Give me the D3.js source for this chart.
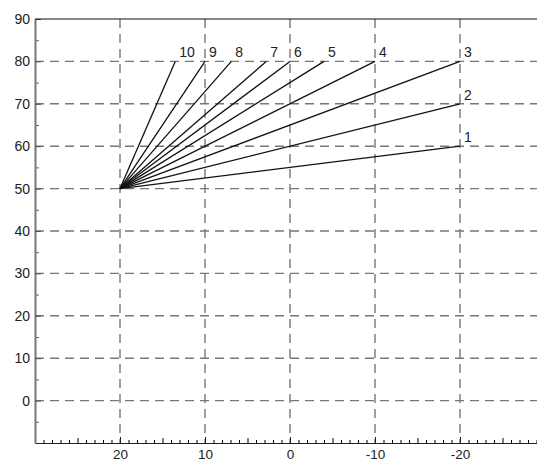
<!DOCTYPE html>
<html>
<head>
<meta charset="utf-8">
<script src="https://cdn.jsdelivr.net/npm/d3@7"></script>
<style>
  body { margin: 0; background: #fff; }
  text { font-family: "Liberation Sans", Arial, sans-serif; fill: #222; }
</style>
</head>
<body>
<div class="chart"></div>
<script>
// Fan of lines, all starting at one point
const originX = 20;
const originY = 50;
const lineLabels = ['1', '2', '3', '4', '5', '6', '7', '8', '9', '10'];
const endX = [-20, -20, -20, -10, -4, 0, 2.8, 6.9, 10, 13.5];
const endY = [60, 70, 80, 80, 80, 80, 80, 80, 80, 80];

// Tick values
const xTicks = [20, 10, 0, -10, -20];
const yTicks = [0, 10, 20, 30, 40, 50, 60, 70, 80, 90];
const yGrid = [0, 10, 20, 30, 40, 50, 60, 70, 80];

document.addEventListener('DOMContentLoaded', function() {
    draw();
});

function draw() {
    const W = 537, H = 462;

    const svg = d3.select('.chart')
        .append('svg')
        .attr('width', W)
        .attr('height', H);

    const x = d3.scaleLinear().domain([30, -30]).range([35, 545]);
    const y = d3.scaleLinear().domain([-10, 90]).range([443, 19]);

    // dashed grid
    const grid = svg.append('g')
        .attr('stroke', '#777')
        .attr('stroke-width', 1.4)
        .attr('stroke-dasharray', '9,6');

    grid.selectAll('.vgrid')
        .data(xTicks)
        .enter()
        .append('line')
        .attr('x1', d => x(d)).attr('x2', d => x(d))
        .attr('y1', y(90)).attr('y2', y(-10));

    grid.selectAll('.hgrid')
        .data(yGrid)
        .enter()
        .append('line')
        .attr('x1', x(30)).attr('x2', W)
        .attr('y1', d => y(d)).attr('y2', d => y(d));

    // minor / medium ticks on x axis
    const minorX = d3.range(30, -30, -1).filter(d => d % 5 !== 0);
    const midX = d3.range(30, -30, -5).filter(d => d % 10 !== 0);

    svg.append('g')
        .attr('transform', `translate(0,${y(-10)})`)
        .call(d3.axisBottom(x).tickValues(minorX).tickSize(-3).tickFormat(''))
        .call(g => g.select('.domain').remove());

    svg.append('g')
        .attr('transform', `translate(0,${y(-10)})`)
        .call(d3.axisBottom(x).tickValues(midX).tickSize(-5).tickFormat(''))
        .call(g => g.select('.domain').remove());

    const xAxis = svg.append('g')
        .attr('class', 'x-axis')
        .attr('transform', `translate(0,${y(-10)})`)
        .call(d3.axisBottom(x).tickValues(xTicks).tickSize(-6).tickSizeOuter(0)
            .tickPadding(6).tickFormat(d => String(d)));
    xAxis.select('.domain').attr('stroke', '#222');
    xAxis.selectAll('.tick line').attr('stroke', '#222');
    xAxis.selectAll('text').style('font-size', '13.5px').attr('fill', '#222');
    xAxis.attr('font-family', null);

    // y axis
    const minorY = d3.range(-5, 90, 10);
    svg.append('g')
        .attr('transform', `translate(${x(30)},0)`)
        .call(d3.axisLeft(y).tickValues(minorY).tickSize(-4).tickFormat(''))
        .call(g => g.select('.domain').remove())
        .selectAll('line').attr('stroke', '#666');

    const yAxis = svg.append('g')
        .attr('class', 'y-axis')
        .attr('transform', `translate(${x(30)},0)`)
        .call(d3.axisLeft(y).tickValues(yTicks).tickSize(-6).tickSizeOuter(0)
            .tickPadding(5).tickFormat(d => String(d)));
    yAxis.select('.domain').attr('stroke', '#777').attr('stroke-width', 2);
    yAxis.selectAll('.tick line').attr('stroke', '#555');
    yAxis.selectAll('text').style('font-size', '14px').attr('fill', '#222');
    yAxis.attr('font-family', null);

    // top frame line
    svg.append('line')
        .attr('x1', x(30)).attr('x2', W)
        .attr('y1', y(90)).attr('y2', y(90))
        .attr('stroke', '#111')
        .attr('stroke-width', 1);

    // the fan lines
    const idx = d3.range(lineLabels.length);
    svg.selectAll('.fan')
        .data(idx)
        .enter()
        .append('line')
        .attr('class', 'fan')
        .attr('x1', x(originX)).attr('y1', y(originY))
        .attr('x2', i => x(endX[i])).attr('y2', i => y(endY[i]))
        .attr('stroke', '#111')
        .attr('stroke-width', 1.3);

    svg.selectAll('.lbl')
        .data(idx)
        .enter()
        .append('text')
        .attr('class', 'lbl')
        .attr('x', i => x(endX[i]) + 4)
        .attr('y', i => y(endY[i]) - 4)
        .style('font-size', '14px')
        .text(i => lineLabels[i]);
}
</script>
</body>
</html>
